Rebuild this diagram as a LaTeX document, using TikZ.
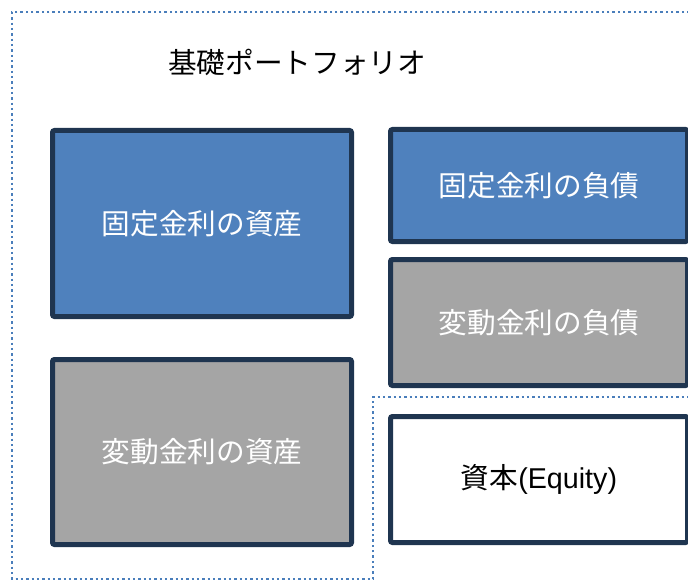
\documentclass[tikz,border=0pt]{standalone}
\usepackage{fontspec}
\setmainfont{Noto Sans CJK JP}
\newfontfamily\latinfont{Liberation Sans}
\definecolor{navy}{HTML}{1F3550}
\definecolor{fixblue}{HTML}{4F81BD}
\definecolor{vargray}{HTML}{A5A5A5}
\definecolor{dotblue}{HTML}{4A7EBB}
\tikzset{
  box/.style={draw=navy, line width=3.75pt, rounded corners=1.5pt, outer sep=0pt, inner sep=0pt,
    font=\fontsize{21.5pt}{26pt}\selectfont, text=white},
  fixbox/.style={box, fill=fixblue},
  varbox/.style={box, fill=vargray},
  eqbox/.style={box, fill=white, text=black},
  frame/.style={draw=dotblue, line width=1.8pt, dash pattern=on 1.7pt off 2.3pt},
}
\begin{document}
\begin{tikzpicture}[x=0.75pt, y=-0.75pt]
\useasboundingbox (0,0) rectangle (688,588);
\begin{scope}
\clip (0,0) rectangle (688,588);
\draw[frame] (700,12) -- (12,12) -- (12,579) -- (373,579) -- (373,397) -- (700,397);
\node[font=\fontsize{21.5pt}{26pt}\selectfont] (title) at (297,62) {基礎ポートフォリオ};
\node[fixbox, minimum width=224.25pt, minimum height=139.5pt] (fa) at (202,223.5) {固定金利の資産};
\node[varbox, minimum width=224.25pt, minimum height=138.75pt] (va) at (202,452) {変動金利の資産};
\node[fixbox, minimum width=222.75pt, minimum height=84pt] (fl) at (539,185.5) {固定金利の負債};
\node[varbox, minimum width=222.75pt, minimum height=94.5pt] (vl) at (539,322.5) {変動金利の負債};
\node[eqbox, minimum width=222.75pt, minimum height=94.5pt] (eq) at (539,479.5) {資本{\latinfont(Equity)}};
\end{scope}
\end{tikzpicture}
\end{document}
